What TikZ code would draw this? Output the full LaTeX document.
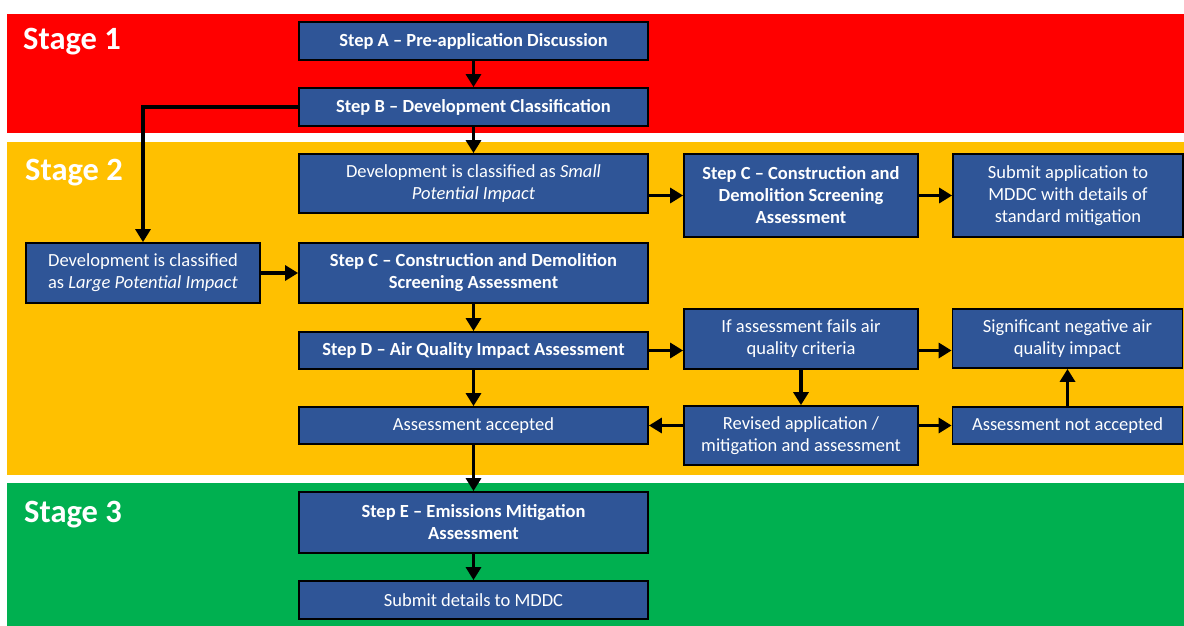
\documentclass[tikz,border=0pt]{standalone}
\usepackage{fontspec}
\setmainfont{Carlito}
\usetikzlibrary{arrows.meta,calc}
\definecolor{stred}{HTML}{FF0000}
\definecolor{styellow}{HTML}{FFC000}
\definecolor{stgreen}{HTML}{00B050}
\definecolor{boxblue}{HTML}{2F5597}
\tikzset{
  box/.style={draw=black, line width=1.8pt, fill=boxblue, text=white, inner sep=0pt, align=center,
    font=\fontsize{18.5}{22}\selectfont},
  bbox/.style={box, font=\fontsize{18.5}{22}\selectfont\bfseries},
  conn/.style={line width=3.6pt, -{Triangle[length=13pt,width=15pt]}},
  stagelbl/.style={text=white, font=\fontsize{32.5}{36}\selectfont\bfseries, anchor=base west, inner sep=0pt},
}
\begin{document}
\begin{tikzpicture}[x=1pt,y=-1pt]
\useasboundingbox (0,0) rectangle (1184,626);
\fill[white] (0,0) rectangle (1184,626);
% bands
\fill[stred] (7,14) rectangle (1184,133);
\fill[styellow] (7,142) rectangle (1184,475);
\fill[stgreen] (7,483) rectangle (1184,626);
\node[stagelbl] (s1) at (23,50) {Stage 1};
\node[stagelbl] (s2) at (25,180) {Stage 2};
\node[stagelbl] (s3) at (24,522) {Stage 3};
% boxes
\node[bbox, minimum width=349, minimum height=38] (A) at (473.5,41) {Step A – Pre-application Discussion};
\node[bbox, minimum width=349, minimum height=38] (B) at (473.5,107) {Step B – Development Classification};
\node[box, minimum width=349, minimum height=59] (small) at (473.5,183.5) {Development is classified as \textit{Small}\\\textit{Potential Impact}};
\node[bbox, minimum width=234, minimum height=83] (C2) at (801,195.5) {Step C – Construction and\\Demolition Screening\\Assessment};
\node[box, minimum width=230, minimum height=83] (sub) at (1068,195.5) {Submit application to\\MDDC with details of\\standard mitigation};
\node[box, minimum width=234, minimum height=60] (large) at (143,273) {Development is classified\\as \textit{Large Potential Impact}};
\node[bbox, minimum width=349, minimum height=60] (C1) at (473.5,273) {Step C – Construction and Demolition\\Screening Assessment};
\node[bbox, minimum width=349, minimum height=37] (D) at (473.5,350.5) {Step D – Air Quality Impact Assessment};
\node[box, minimum width=234, minimum height=60] (fail) at (801,339) {If assessment fails air\\quality criteria};
\node[box, minimum width=230, minimum height=59] (sig) at (1067.5,338.5) {Significant negative air\\quality impact};
\node[box, minimum width=349, minimum height=37] (acc) at (473.5,425.5) {Assessment accepted};
\node[box, minimum width=234, minimum height=59] (rev) at (801,435.5) {Revised application /\\mitigation and assessment};
\node[box, minimum width=230, minimum height=37] (nacc) at (1067.5,425.5) {Assessment not accepted};
\node[bbox, minimum width=349, minimum height=61] (E) at (473.5,522.5) {Step E – Emissions Mitigation\\Assessment};
\node[box, minimum width=349, minimum height=38] (subd) at (473.5,600) {Submit details to MDDC};
% connectors
\draw[conn] (A) -- (B);
\draw[conn] (B) -- (small);
\draw[conn] (B.west) -| (large.north);
\draw[conn] (small.east |- C2.west) -- (C2.west);
\draw[conn] (C2) -- (sub);
\draw[conn] (large) -- (C1);
\draw[conn] (C1) -- (D);
\draw[conn] (D) -- (acc);
\draw[conn] (D.east) -- (fail.west |- D.east);
\draw[conn] (fail.east |- D.east) -- (sig.west |- D.east);
\draw[conn] (fail) -- (rev);
\draw[conn] (rev.west |- acc.east) -- (acc.east);
\draw[conn] (rev.east |- nacc.west) -- (nacc.west);
\draw[conn] (nacc) -- (sig);
\draw[conn] (acc) -- (E);
\draw[conn] (E) -- (subd);
\end{tikzpicture}
\end{document}
